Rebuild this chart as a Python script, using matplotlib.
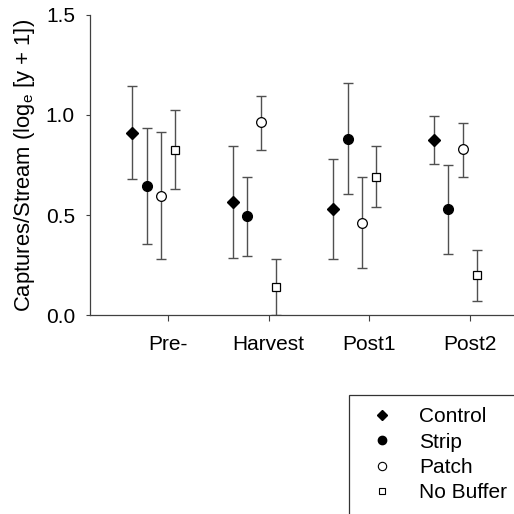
import matplotlib.pyplot as plt
from matplotlib.lines import Line2D
import numpy as np

plt.rcParams['font.family'] = ['Liberation Sans', 'DejaVu Sans']

# periods on the x axis
periods = ["Pre-", "Harvest", "Post1", "Post2"]
treatments = ["Control", "Strip", "Patch", "No Buffer"]

# means and error bar ends (lower, upper)
control = [0.912, 0.563, 0.528, 0.873]
control_lo = [0.678, 0.287, 0.278, 0.755]
control_hi = [1.147, 0.845, 0.780, 0.997]

strip = [0.645, 0.495, 0.882, 0.528]
strip_lo = [0.353, 0.295, 0.605, 0.303]
strip_hi = [0.937, 0.692, 1.160, 0.750]

patch = [0.597, 0.963, 0.462, 0.828]
patch_lo = [0.278, 0.827, 0.233, 0.692]
patch_hi = [0.917, 1.097, 0.692, 0.962]

nobuf = [0.827, 0.138, 0.692, 0.198]
nobuf_lo = [0.628, 0.0, 0.542, 0.070]
nobuf_hi = [1.027, 0.278, 0.845, 0.327]

series = [
    (control, control_lo, control_hi, dict(marker='D', mfc='black', mec='black', ms=6)),
    (strip, strip_lo, strip_hi, dict(marker='o', mfc='black', mec='black', ms=7)),
    (patch, patch_lo, patch_hi, dict(marker='o', mfc='white', mec='black', ms=7, mew=0.9)),
    (nobuf, nobuf_lo, nobuf_hi, dict(marker='s', mfc='white', mec='black', ms=5.5, mew=0.9)),
]

fig = plt.figure(figsize=(5.14, 5.14), dpi=100)
ax = fig.add_axes([0.1755, 0.387, 0.8245, 0.584])

x = np.arange(1, len(periods) + 1)
offsets = [-2.5, -1.5, -0.5, 0.5]
step = 0.143

for (m, lo, hi, style), off in zip(series, offsets):
    m = np.array(m)
    yerr = [m - np.array(lo), np.array(hi) - m]
    ax.errorbar(x + off * step, m, yerr=yerr, fmt='none', ecolor='#505050',
                elinewidth=1.0, capsize=3.4, capthick=1.0, zorder=2)
    ax.plot(x + off * step, m, linestyle='none', zorder=3, **style)

ax.set_xlim(0.225, 4.44)
ax.set_ylim(0, 1.5)
ax.set_yticks([0.0, 0.5, 1.0, 1.5])
ax.set_yticklabels(["0.0", "0.5", "1.0", "1.5"])
ax.set_xticks(x)
ax.set_xticklabels(periods)
ax.tick_params(axis='y', direction='out', length=3, width=0.8, labelsize=15, pad=8, color='#404040')
ax.tick_params(axis='x', direction='out', length=4, width=0.8, labelsize=15, pad=10, color='#404040')
for s in ['top', 'right']:
    ax.spines[s].set_visible(False)
for s in ['left', 'bottom']:
    ax.spines[s].set_color('#404040')
    ax.spines[s].set_linewidth(0.9)

ax.set_ylabel("Captures/Stream (log$_\\mathregular{e}$ [y + 1])", fontsize=15.8, labelpad=6)

handles = [
    Line2D([], [], linestyle='none', marker='D', mfc='black', mec='black', ms=5),
    Line2D([], [], linestyle='none', marker='o', mfc='black', mec='black', ms=6),
    Line2D([], [], linestyle='none', marker='o', mfc='white', mec='black', ms=6, mew=0.8),
    Line2D([], [], linestyle='none', marker='s', mfc='white', mec='black', ms=5, mew=0.8),
]
leg = fig.legend(handles, treatments, loc='upper left',
                 bbox_to_anchor=(349 / 514, 1 - 395 / 514), fontsize=15,
                 frameon=True, fancybox=False, edgecolor='black',
                 borderpad=0.6, labelspacing=0.3, handletextpad=0.82,
                 handlelength=1.94, borderaxespad=0)
leg.get_frame().set_linewidth(0.9)

fig.savefig("out.png", dpi=100)
